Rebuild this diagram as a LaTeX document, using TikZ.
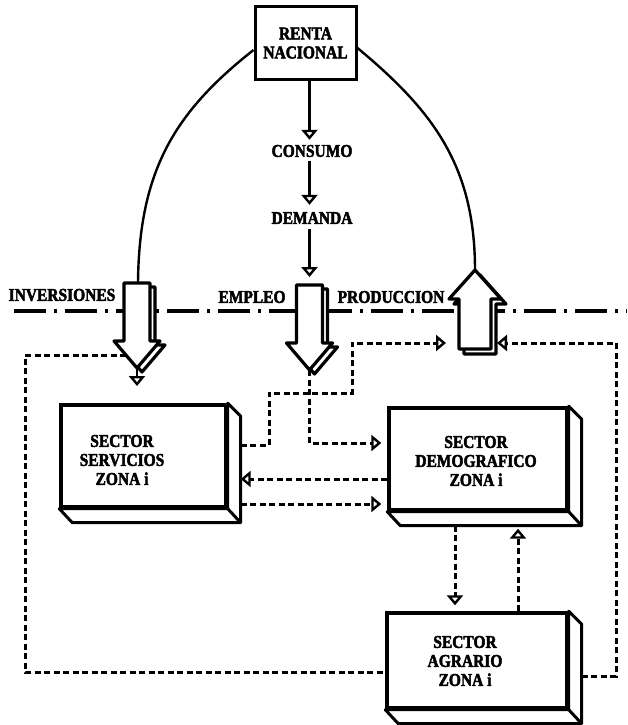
\documentclass[tikz,border=0pt]{standalone}
\usepackage{fontspec}
\setmainfont{Liberation Serif}[BoldFeatures={FakeBold=2.5,FakeStretch=0.86}]
\usetikzlibrary{arrows.meta,calc}
\tikzset{
  pics/downarrow/.style={code={
    \draw[bigarrow, shift={(5,4)}] (-13,0) -- (-13,58) -- (-23,58) -- (0,85) -- (23,58) -- (13,58) -- (13,0) -- cycle;
    \draw[bigarrow] (-13,0) -- (-13,58) -- (-23,58) -- (0,85) -- (23,58) -- (13,58) -- (13,0) -- cycle;
  }},
  pics/uparrow/.style={code={
    \draw[bigarrow, shift={(5,5)}] (0,0) -- (26,29) -- (16,29) -- (16,79) -- (-16,79) -- (-16,29) -- (-26,29) -- cycle;
    \draw[bigarrow] (0,0) -- (26,29) -- (16,29) -- (16,79) -- (-16,79) -- (-16,29) -- (-26,29) -- cycle;
  }}
}
\begin{document}
\begin{tikzpicture}[x=1pt,y=-1pt,
  lab/.style={font=\bfseries\fontsize{18}{19}\selectfont, align=center, inner sep=0pt},
  sectorbox/.style={draw, line width=3.4pt, fill=white, inner sep=0pt},
  depth/.style={line width=3pt, line join=round, fill=white},
  solidline/.style={line width=2.4pt},
  dashline/.style={line width=3pt, dash pattern=on 6pt off 3.5pt},
  dashdot/.style={line width=3.2pt, dash pattern=on 32pt off 8pt on 3pt off 8pt},
  tri/.style={-{Triangle[open, width=16pt, length=10pt, line width=2.4pt]}},
  bigarrow/.style={line width=3.2pt, fill=white, line join=round},
]
\useasboundingbox (0,0) rectangle (627,725);

% dash-dot horizon
\draw[dashdot] (14,311) -- (627,311);

% big hollow arrows
\pic at (137,283) {downarrow};
\pic at (309.5,285) {downarrow};
\pic at (475,270) {uparrow};

\coordinate (invtop) at (138,283);
\coordinate (invtip) at (137,369);
\coordinate (invwing) at (126,355);
\coordinate (emptop) at (309.5,285);
\coordinate (emptip) at (309.5,370);
\coordinate (prodtip) at (475,270);
\coordinate (prodleft) at (446,343);
\coordinate (prodright) at (497,343);

% boxes
\node[sectorbox, lab, line width=3pt, minimum width=101pt, minimum height=72pt] (renta) at (305.5,43) {RENTA\\NACIONAL};
\node[sectorbox, minimum width=165pt, minimum height=102pt] (serv) at (143.5,456) {};
\node[sectorbox, minimum width=178pt, minimum height=102pt] (demo) at (478,459) {};
\node[sectorbox, minimum width=180pt, minimum height=95pt] (agr) at (477,660.5) {};

\foreach \n in {serv,demo,agr}{
  \draw[depth] (\n.north east) -- ++(13,13) -- ($(\n.south east)+(13,14)$) -- ($(\n.south west)+(13,14)$) -- (\n.south west) -- (\n.south east) -- cycle;
  \draw[depth] (\n.south east) -- ++(13,14);
}

\node[lab] (servt) at (122,460) {SECTOR\\SERVICIOS\\ZONA i};
\node[lab] (demot) at (476,461) {SECTOR\\DEMOGRAFICO\\ZONA i};
\node[lab] (agrt) at (465,661) {SECTOR\\AGRARIO\\ZONA i};

\node[lab] (consumo) at (312,151) {CONSUMO};
\node[lab] (demanda) at (312,218) {DEMANDA};
\node[lab] (inv) at (62,295) {INVERSIONES};
\node[lab] (empleo) at (252,297) {EMPLEO};
\node[lab] (prod) at (391,297) {PRODUCCION};

% solid chain
\draw[solidline, tri, shorten >=5pt] (renta.south -| emptop) -- (consumo.north -| emptop);
\draw[solidline, tri, shorten <=4pt, shorten >=7pt] (consumo.south -| emptop) -- (demanda.north -| emptop);
\draw[solidline, tri, shorten <=5pt, shorten >=8pt] (demanda.south -| emptop) -- (emptop);

% curves
\draw[solidline] (renta.west |- 0,50) .. controls (175,112) and (139,170) .. (invtop);
\draw[solidline] (renta.east |- 0,48) .. controls (432,110) and (475,165) .. (prodtip);

% small arrow under inversiones
\draw[solidline, tri] (invtip) -- ++(0,17);

% dashed connectors
\coordinate (servR) at ([xshift=13pt]serv.east);
\coordinate (demoB) at ([yshift=-14pt]demo.south);
\coordinate (agrR) at ([xshift=13pt]agr.east);

\draw[dashline] (invwing) -- (25,355) -- (25,672) -- (agr.west |- 0,672);
\draw[dashline, tri] (servR |- 0,445) -- (269,445) -- (269,393) -- (352,393) -- (352,343) -- (prodleft);
\draw[dashline, tri, shorten >=6pt] (emptip) -- (309.5,443) -- (demo.west |- 0,443);
\draw[dashline, tri] (demo.west |- 0,479) -- (servR |- 0,479);
\draw[dashline, tri, shorten >=6pt] (servR |- 0,504) -- (demo.west |- 0,504);
\draw[dashline, tri, shorten >=6pt] (demoB -| 455,0) -- (agr.north -| 455,0);
\draw[dashline, tri, shorten >=3pt] (agr.north -| 518,0) -- (demoB -| 518,0);
\draw[dashline, tri] (agrR |- 0,676) -- (616,676) -- (616,343) -- (prodright);
\end{tikzpicture}
\end{document}
